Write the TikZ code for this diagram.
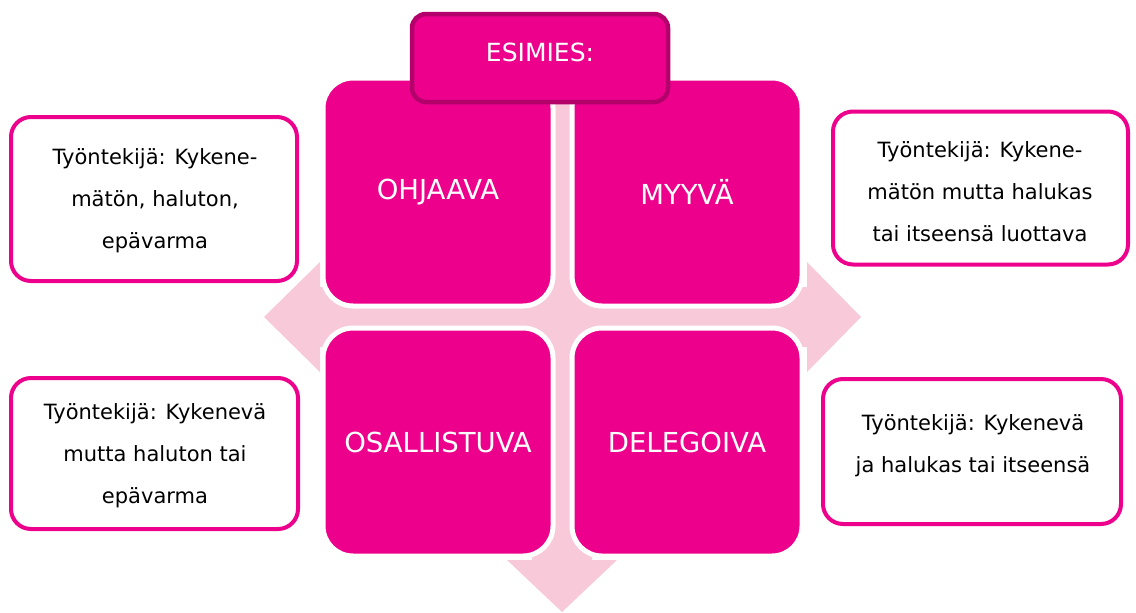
\documentclass[tikz,border=0pt]{standalone}
\usepackage{fontspec}
\setmainfont{DejaVu Sans}
\definecolor{mag}{HTML}{EC008C}
\definecolor{magdark}{HTML}{B3006B}
\definecolor{palepink}{HTML}{F7C9D9}
\begin{document}
\begin{tikzpicture}[x=1pt,y=-1pt,
  quad/.style={draw=white, line width=5pt, fill=mag, rounded corners=30pt, text=white,
    minimum width=230pt, minimum height=228pt, inner sep=0pt,
    font=\fontsize{27.5}{32}\selectfont},
  esbox/.style={draw=magdark, line width=4.5pt, fill=mag, rounded corners=14pt,
    minimum width=256pt, minimum height=88pt, inner sep=0pt},
  estext/.style={text=white, font=\fontsize{25}{30}\selectfont, inner sep=0pt},
  sidebox/.style={draw=mag, line width=4pt, fill=white, rounded corners=20pt, inner sep=0pt},
  sidetext/.style={align=center, text=black, inner sep=0pt, font=\fontsize{21}{42}\selectfont}
]
\useasboundingbox (0,0) rectangle (1136,613);
% background four-way arrow
\fill[palepink] (532,90) -- (592,90) -- (592,287) -- (807,287) -- (807,262) -- (861,317)
  -- (807,372) -- (807,347) -- (592,347) -- (592,560) -- (617,560) -- (562,612)
  -- (507,560) -- (532,560) -- (532,347) -- (320,347) -- (320,372) -- (264,317)
  -- (320,262) -- (320,287) -- (532,287) -- cycle;
% quadrants
\node[quad] (ohj) at (438,192) {OHJAAVA};
\node[quad] (myy) at (687,192) {MYYVÄ};
\node[quad] (osa) at (438,442) {OSALLISTUVA};
\node[quad] (del) at (687,442) {DELEGOIVA};
% top box
\node[esbox] (esimies) at (540,58) {};
\node[estext] (esimiesT) at (540,52) {ESIMIES:};
% side boxes
\node[sidebox, minimum width=286pt, minimum height=164pt] (lt) at (154,199) {};
\node[sidetext] (ltT) at (155,201) {Työntekijä: Kykene-\\mätön, haluton,\\epävarma};
\node[sidebox, minimum width=295pt, minimum height=153pt] (rt) at (980.5,188) {};
\node[sidetext] (rtT) at (980,192) {Työntekijä: Kykene-\\mätön mutta halukas\\tai itseensä luottava};
\node[sidebox, minimum width=287pt, minimum height=151pt] (lb) at (154.5,453.5) {};
\node[sidetext] (lbT) at (155,456) {Työntekijä: Kykenevä\\mutta haluton tai\\epävarma};
\node[sidebox, minimum width=298pt, minimum height=145pt] (rb) at (972,451.5) {};
\node[sidetext] (rbT) at (973,446) {Työntekijä: Kykenevä\\ja halukas tai itseensä};
\end{tikzpicture}
\end{document}
